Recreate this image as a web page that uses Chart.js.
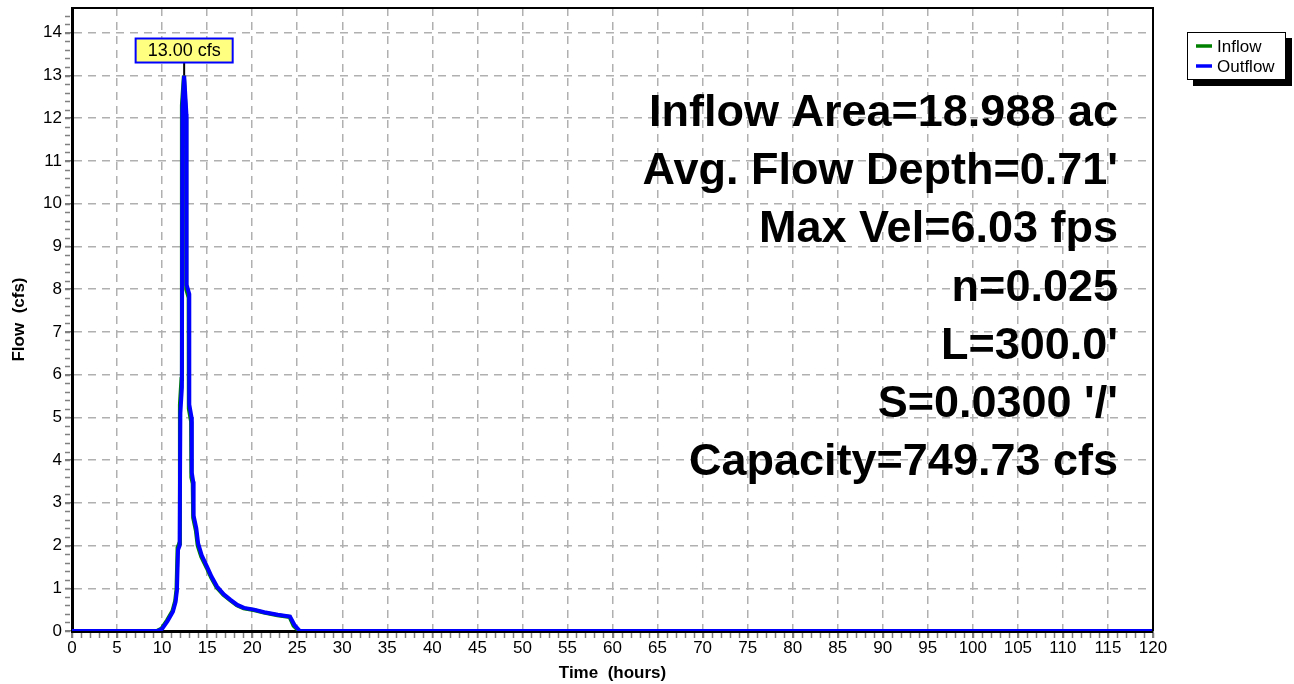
<!DOCTYPE html>
<html>
<head>
<meta charset="utf-8">
<script src="https://cdn.jsdelivr.net/npm/chart.js@4.4.1/dist/chart.umd.min.js"></script>
<style>
  html, body { margin: 0; padding: 0; background: #fff; }
  #wrap { width: 1294px; height: 684px; position: relative; }
</style>
</head>
<body>
<div id="wrap"><canvas id="chart"></canvas></div>
<script>
// hydrograph (hours, cfs)
const outflowTimes = [0, 9.5, 10, 10.6, 11.2, 11.5, 11.65, 11.77, 11.95, 12.03, 12.2, 12.25, 12.45, 12.7, 12.72, 13.0, 13.02, 13.27, 13.3, 13.45, 13.5, 13.8, 14.0, 14.4, 15.0, 15.5, 16.1, 16.85, 17.6, 18.35, 19.1, 20.2, 21.35, 22.85, 24.2, 24.7, 25.3, 120];
const outflowValues = [0, 0, 0.05, 0.23, 0.45, 0.68, 0.95, 1.9, 2.0, 5.1, 5.7, 12.2, 13.0, 12.1, 8.1, 7.9, 5.3, 5.0, 3.7, 3.5, 2.7, 2.4, 2.05, 1.77, 1.5, 1.27, 1.04, 0.86, 0.73, 0.61, 0.54, 0.5, 0.44, 0.38, 0.34, 0.14, 0, 0];
const inflowTimes = [0, 9.4, 9.95, 10.55, 11.15, 11.45, 11.6, 11.72, 11.9, 11.98, 12.15, 12.2, 12.42, 12.66, 12.68, 12.95, 12.97, 13.22, 13.25, 13.4, 13.45, 13.75, 13.95, 14.35, 14.95, 15.45, 16.05, 16.8, 17.55, 18.3, 19.05, 20.15, 21.3, 22.8, 24.15, 24.6, 25.2, 120];
const inflowValues = [0, 0, 0.06, 0.25, 0.47, 0.7, 0.97, 1.95, 2.05, 5.3, 5.9, 12.3, 13.0, 12.0, 8.0, 7.8, 5.2, 4.9, 3.6, 3.45, 2.65, 2.35, 2.0, 1.74, 1.48, 1.25, 1.02, 0.85, 0.72, 0.6, 0.53, 0.49, 0.43, 0.37, 0.33, 0.12, 0, 0];

const xTicks = [0, 5, 10, 15, 20, 25, 30, 35, 40, 45, 50, 55, 60, 65, 70, 75, 80, 85, 90, 95, 100, 105, 110, 115, 120];
const yTicks = [0, 1, 2, 3, 4, 5, 6, 7, 8, 9, 10, 11, 12, 13, 14];
const seriesNames = ['Inflow', 'Outflow'];
const seriesColors = ['#008000', '#0000ff'];
const peakLabel = '13.00 cfs';
const infoLines = [
    'Inflow Area=18.988 ac',
    "Avg. Flow Depth=0.71'",
    'Max Vel=6.03 fps',
    'n=0.025',
    "L=300.0'",
    "S=0.0300 '/'",
    'Capacity=749.73 cfs'
];

const FONT = '"Liberation Sans", Arial, sans-serif';

function to_points(times, values) {
    return times.map((t, i) => ({ x: t, y: values[i] }));
}

const extras = {
    id: 'extras',
    afterDatasetsDraw(chart) {
        const ctx = chart.ctx;
        const area = chart.chartArea;
        const xs = chart.scales.x;
        const ys = chart.scales.y;
        ctx.save();

        // top + right frame
        ctx.strokeStyle = '#000';
        ctx.lineWidth = 2;
        ctx.beginPath();
        ctx.moveTo(area.left, area.top);
        ctx.lineTo(area.right, area.top);
        ctx.lineTo(area.right, area.bottom);
        ctx.stroke();

        // minor ticks
        ctx.strokeStyle = '#808080';
        ctx.lineWidth = 1.5;
        ctx.beginPath();
        for (let v = 0; v <= ys.max + 1e-9; v += 0.2) {
            const py = Math.round(ys.getPixelForValue(v)) + 0.5;
            ctx.moveTo(area.left - 7, py);
            ctx.lineTo(area.left - 2, py);
        }
        for (let h = 0; h <= 120; h += 1) {
            const px = Math.round(xs.getPixelForValue(h)) + 0.5;
            ctx.moveTo(px, area.bottom + 2);
            ctx.lineTo(px, area.bottom + 7);
        }
        ctx.stroke();

        // peak callout
        let peakIdx = 0;
        outflowValues.forEach((v, i) => { if (v > outflowValues[peakIdx]) peakIdx = i; });
        const px = xs.getPixelForValue(outflowTimes[peakIdx]);
        const py = ys.getPixelForValue(outflowValues[peakIdx]);
        ctx.font = '18px ' + FONT;
        const tw = ctx.measureText(peakLabel).width;
        const bw = tw + 24, bh = 24;
        const bx = px - bw / 2, by = py - 37;
        ctx.strokeStyle = '#000';
        ctx.lineWidth = 2;
        ctx.beginPath();
        ctx.moveTo(px, by + bh);
        ctx.lineTo(px, py);
        ctx.stroke();
        ctx.fillStyle = '#ffff80';
        ctx.fillRect(bx, by, bw, bh);
        ctx.strokeStyle = '#0000ff';
        ctx.lineWidth = 2;
        ctx.strokeRect(bx, by, bw, bh);
        ctx.fillStyle = '#000';
        ctx.textAlign = 'center';
        ctx.textBaseline = 'middle';
        ctx.fillText(peakLabel, px, by + bh / 2 + 1);

        // info block
        ctx.font = 'bold 45px ' + FONT;
        ctx.textAlign = 'right';
        ctx.textBaseline = 'alphabetic';
        infoLines.forEach((line, i) => {
            ctx.fillText(line, area.right - 35, 126 + i * 58.2);
        });

        // legend
        const lx = 1187, ly = 32, lw = 99, lh = 48;
        ctx.fillStyle = '#000';
        ctx.fillRect(lx + 6, ly + 6, lw, lh);
        ctx.fillStyle = '#fff';
        ctx.fillRect(lx, ly, lw, lh);
        ctx.strokeStyle = '#000';
        ctx.lineWidth = 1;
        ctx.strokeRect(lx + 0.5, ly + 0.5, lw - 1, lh - 1);
        ctx.font = '17px ' + FONT;
        ctx.textAlign = 'left';
        ctx.textBaseline = 'middle';
        seriesNames.forEach((name, i) => {
            const yy = ly + 14 + i * 20;
            ctx.strokeStyle = seriesColors[i];
            ctx.lineWidth = 3.5;
            ctx.beginPath();
            ctx.moveTo(lx + 9, yy);
            ctx.lineTo(lx + 25, yy);
            ctx.stroke();
            ctx.fillStyle = '#000';
            ctx.fillText(name, lx + 30, yy + 1);
        });

        ctx.restore();
    }
};

const gridDash = { color: '#b0b0b0', lineWidth: 1.5, tickColor: '#808080', tickLength: 7 };

new Chart(document.getElementById('chart'), {
    type: 'line',
    data: {
        datasets: [
            {
                label: seriesNames[0],
                data: to_points(inflowTimes, inflowValues),
                borderColor: seriesColors[0],
                borderWidth: 4,
                pointRadius: 0,
                tension: 0,
                order: 1
            },
            {
                label: seriesNames[1],
                data: to_points(outflowTimes, outflowValues),
                borderColor: seriesColors[1],
                borderWidth: 4,
                pointRadius: 0,
                tension: 0,
                order: 0
            }
        ]
    },
    options: {
        responsive: true,
        maintainAspectRatio: false,
        animation: false,
        layout: { padding: { top: 8, right: 141, left: 0, bottom: 0 } },
        plugins: {
            legend: { display: false },
            tooltip: { enabled: false }
        },
        scales: {
            x: {
                type: 'linear',
                min: 0,
                max: 120,
                afterBuildTicks: (axis) => { axis.ticks = xTicks.map(v => ({ value: v })); },
                afterFit: (axis) => { axis.height = 53; axis.paddingLeft = 0; axis.paddingRight = 0; },
                ticks: { color: '#000', font: { family: FONT, size: 17 }, padding: 0, maxRotation: 0, autoSkip: false },
                grid: Object.assign({}, gridDash),
                border: { color: '#000', width: 3, dash: [8, 6] },
                title: { display: true, text: 'Time  (hours)', color: '#000', font: { family: FONT, size: 17, weight: 'bold' }, padding: 0 }
            },
            y: {
                min: 0,
                max: 14.58,
                afterBuildTicks: (axis) => { axis.ticks = yTicks.map(v => ({ value: v })); },
                afterFit: (axis) => { axis.width = 72; axis.paddingTop = 0; axis.paddingBottom = 0; },
                ticks: { color: '#000', font: { family: FONT, size: 17 }, padding: 3 },
                grid: Object.assign({}, gridDash),
                border: { color: '#000', width: 3, dash: [8, 6] },
                title: { display: true, text: 'Flow  (cfs)', color: '#000', font: { family: FONT, size: 17, weight: 'bold' }, padding: { top: 9, bottom: 0 } }
            }
        }
    },
    plugins: [extras]
});
</script>
</body>
</html>
